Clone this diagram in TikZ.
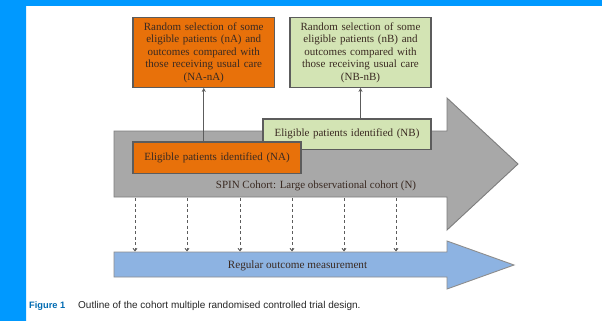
\documentclass[tikz,border=0pt]{standalone}
\usepackage{fontspec}
\setmainfont{Liberation Serif}
\newfontfamily\capfont{Liberation Sans}
\usetikzlibrary{arrows.meta}
\definecolor{frameblue}{HTML}{0099FF}
\definecolor{boxorange}{HTML}{E8710A}
\definecolor{boxgreen}{HTML}{D3E4B4}
\definecolor{cohortgray}{HTML}{A8A8A8}
\definecolor{measblue}{HTML}{8DB3E2}
\definecolor{edgegray}{HTML}{5C5C5C}
\definecolor{inkdark}{HTML}{3A2A22}

\begin{document}
\begin{tikzpicture}[x=1pt,y=-1pt,
  box/.style={draw=edgegray, line width=1.2pt, inner sep=0pt, align=center,
    font=\fontsize{11}{12.5}\selectfont, text=inkdark},
  upline/.style={draw=edgegray, line width=1.1pt, -{Stealth[length=4pt,width=4pt]}},
  tick/.style={draw=edgegray, line width=0.9pt, dash pattern=on 3pt off 2.5pt,
    -{Straight Barb[length=2.5pt,width=4pt]}}]
\useasboundingbox (0,0) rectangle (602,321);
\fill[white] (0,0) rectangle (602,321);
\fill[frameblue] (0,0) rectangle (26,321) (0,0) rectangle (602,6);

% cohort arrow
\filldraw[fill=cohortgray, draw=edgegray!80, line width=0.9pt]
  (114,131) -- (447,131) -- (447,98) -- (518,164) -- (447,230) -- (447,197) -- (114,197) -- cycle;
% measurement arrow
\filldraw[fill=measblue, draw=edgegray!70, line width=0.9pt]
  (114,252) -- (447,252) -- (447,241) -- (514,265) -- (447,289) -- (447,277) -- (114,277) -- cycle;

\node[box, fill=boxorange, text width=141.5pt, minimum height=69.6pt] (randa) at (203.75,52.5)
  {Random selection of some\\eligible patients (nA) and\\outcomes compared with\\those receiving usual care\\(NA-nA)};
\node[box, fill=boxgreen, text width=141pt, minimum height=69.6pt] (randb) at (360.5,52.5)
  {Random selection of some\\eligible patients (nB) and\\outcomes compared with\\those receiving usual care\\(NB-nB)};
\node[box, fill=boxgreen, text width=168pt, minimum height=30.3pt] (nb) at (347,134.2)
  {Eligible patients identified (NB)};
\node[box, fill=boxorange, text width=168pt, minimum height=31.3pt] (na) at (217,157.7)
  {Eligible patients identified (NA)};

\draw[upline] (na.north -| randa.south) -- (randa.south);
\draw[upline] (nb.north -| randb.south) -- (randb.south);

\node[font=\fontsize{11}{12}\selectfont, text=inkdark] (spin) at (316,185.7)
  {SPIN Cohort: Large observational cohort (N)};
\node[font=\fontsize{11.2}{12}\selectfont, text=inkdark] (meas) at (297.5,265.5)
  {Regular outcome measurement};

\foreach \i/\x in {1/135,2/187,3/240,4/292,5/344,6/396} {
  \coordinate (from\i) at (\x,198);
  \coordinate (to\i) at (\x,251.5);
  \draw[tick] (from\i) -- (to\i);
}

\node[anchor=west, inner sep=0pt, font=\capfont\bfseries\fontsize{9.3}{11}\selectfont, text=frameblue!70!black] (fig) at (29,305.7) {Figure 1};
\node[anchor=west, inner sep=0pt, font=\capfont\fontsize{10}{11}\selectfont, text=black!85] (cap) at (78,305.7)
  {Outline of the cohort multiple randomised controlled trial design.};
\end{tikzpicture}
\end{document}
